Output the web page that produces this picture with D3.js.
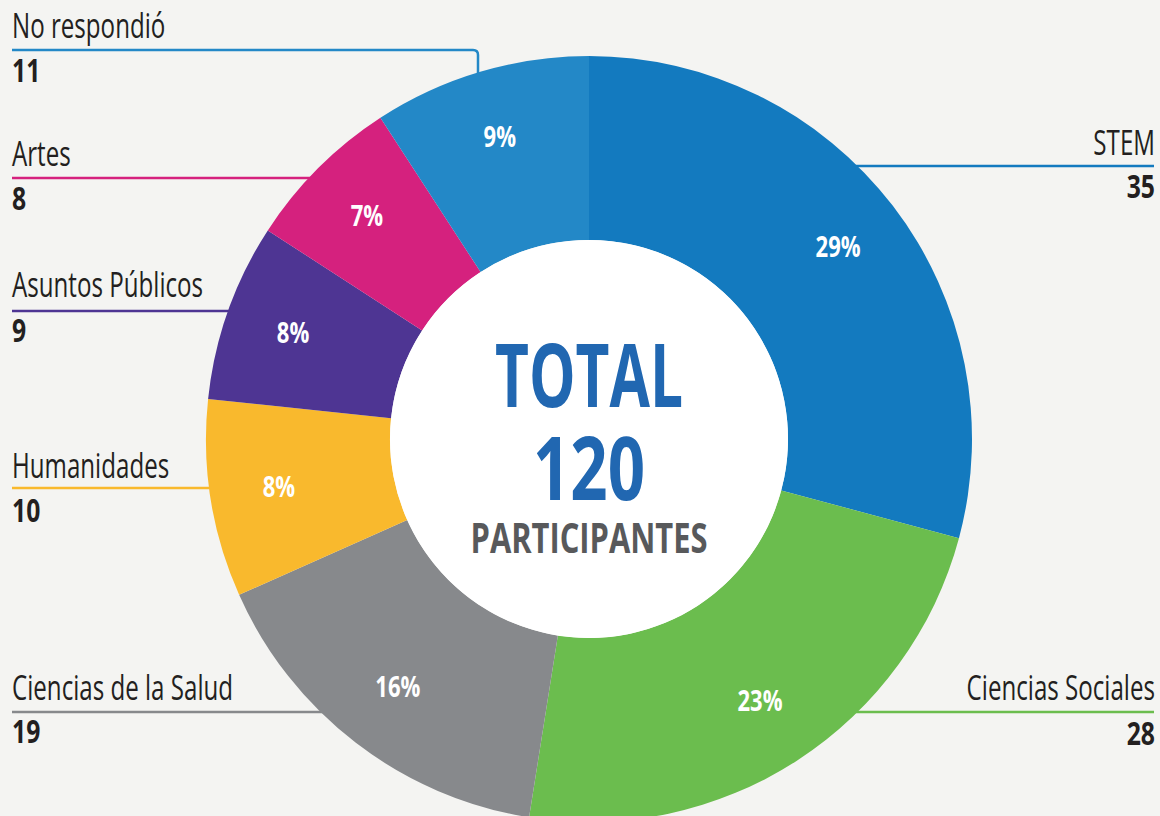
<!DOCTYPE html>
<html>
<head>
<meta charset="utf-8">
<script src="https://cdn.jsdelivr.net/npm/d3@7"></script>
<style>
  html, body { margin: 0; padding: 0; background: #f4f4f2; }
  svg { display: block; }
  text { font-family: "Open Sans", "Noto Sans", "Liberation Sans", sans-serif; }
</style>
</head>
<body>
<svg id="chart" width="1160" height="816"></svg>
<script>
// data
const categories = ["STEM", "Ciencias Sociales", "Ciencias de la Salud", "Humanidades", "Asuntos Públicos", "Artes", "No respondió"];
const counts = [35, 28, 19, 10, 9, 8, 11];
const sliceColors = ["#137abf", "#6bbd4e", "#87898c", "#f9b92d", "#4e3593", "#d5217e", "#2388c7"];

// label layout: side, label baseline, leader line y, number baseline
const labelLayout = [
    { side: "right", ty: 155, ly: 166, ny: 198 },
    { side: "right", ty: 700, ly: 712, ny: 745 },
    { side: "left", ty: 700, ly: 712, ny: 743 },
    { side: "left", ty: 478, ly: 488, ny: 522 },
    { side: "left", ty: 297, ly: 311, ny: 342 },
    { side: "left", ty: 166, ly: 178, ny: 210 },
    { side: "left", ty: 38, ly: 50, ny: 82, cornerX: 478 }
];

const width = 1160, height = 816;
const cx = 589, cy = 439;
const outerR = 383, innerR = 199, labelR = 314;
// no condensed face installed, so narrow the glyphs by hand
const nameSqueeze = 0.71, numSqueeze = 0.75, pctSqueeze = 0.76;

const total = d3.sum(counts);
const rows = categories.map((c, i) => ({ name: c, value: counts[i], color: sliceColors[i], layout: labelLayout[i] }));

const svg = d3.select("#chart");

svg.append("rect")
    .attr("width", width)
    .attr("height", height)
    .attr("fill", "#f4f4f2");

// leader lines go under the donut
const lines = svg.append("g");
rows.forEach(d => {
    const L = d.layout;
    // where the line meets the outer edge of the ring
    const dx = Math.sqrt(Math.max(0, outerR * outerR - (L.ly - cy) * (L.ly - cy)));
    let p;
    if (L.cornerX) {
        const r = 5;
        p = `M12,${L.ly} H${L.cornerX - r} Q${L.cornerX},${L.ly} ${L.cornerX},${L.ly + r} V${L.ly + 40}`;
    } else if (L.side === "left") {
        p = `M12,${L.ly} H${cx - dx + 25}`;
    } else {
        p = `M${cx + dx - 25},${L.ly} H1154`;
    }
    lines.append("path")
        .attr("d", p)
        .attr("fill", "none")
        .attr("stroke", d.color)
        .attr("stroke-width", 2.5);
});

// donut
const pie = d3.pie().sort(null).value(d => d.value);
const arc = d3.arc().innerRadius(innerR).outerRadius(outerR);
const labelArc = d3.arc().innerRadius(labelR).outerRadius(labelR);

const g = svg.append("g").attr("transform", `translate(${cx},${cy})`);

g.selectAll("path.slice")
    .data(pie(rows))
    .join("path")
    .attr("class", "slice")
    .attr("d", arc)
    .attr("fill", d => d.data.color);

g.selectAll("text.pct")
    .data(pie(rows))
    .join("text")
    .attr("class", "pct")
    .attr("transform", d => `translate(${labelArc.centroid(d)}) scale(${pctSqueeze},1)`)
    .attr("text-anchor", "middle")
    .attr("dy", "0.3em")
    .attr("fill", "#fff")
    .attr("font-weight", "bold")
    .attr("font-size", 29)
    .text(d => Math.round(d.data.value / total * 100) + "%");

// white centre
g.append("circle")
    .attr("r", innerR)
    .attr("fill", "#fff");

g.append("text")
    .attr("x", 0)
    .attr("y", 407 - cy)
    .attr("text-anchor", "middle")
    .attr("fill", "#2167b1")
    .attr("font-weight", "bold")
    .attr("font-size", 87)
    .attr("textLength", 188)
    .attr("lengthAdjust", "spacingAndGlyphs")
    .text("TOTAL");

g.append("text")
    .attr("x", 0)
    .attr("y", 500 - cy)
    .attr("text-anchor", "middle")
    .attr("fill", "#2167b1")
    .attr("font-weight", "bold")
    .attr("font-size", 87)
    .attr("textLength", 112)
    .attr("lengthAdjust", "spacingAndGlyphs")
    .text(total);

g.append("text")
    .attr("x", 0)
    .attr("y", 553 - cy)
    .attr("text-anchor", "middle")
    .attr("fill", "#58595b")
    .attr("font-weight", "bold")
    .attr("font-size", 42)
    .attr("textLength", 237)
    .attr("lengthAdjust", "spacingAndGlyphs")
    .text("PARTICIPANTES");

// category labels
const labels = svg.append("g");
rows.forEach(d => {
    const L = d.layout;
    const x = L.side === "left" ? 12 : 1155;
    const anchor = L.side === "left" ? "start" : "end";
    labels.append("text")
        .attr("transform", `translate(${x},${L.ty}) scale(${nameSqueeze},1)`)
        .attr("text-anchor", anchor)
        .attr("fill", "#231f20")
        .attr("font-size", 34)
        .text(d.name);
    labels.append("text")
        .attr("transform", `translate(${x},${L.ny}) scale(${numSqueeze},1)`)
        .attr("text-anchor", anchor)
        .attr("fill", "#231f20")
        .attr("font-weight", "bold")
        .attr("font-size", 33)
        .text(d.value);
});
</script>
</body>
</html>
